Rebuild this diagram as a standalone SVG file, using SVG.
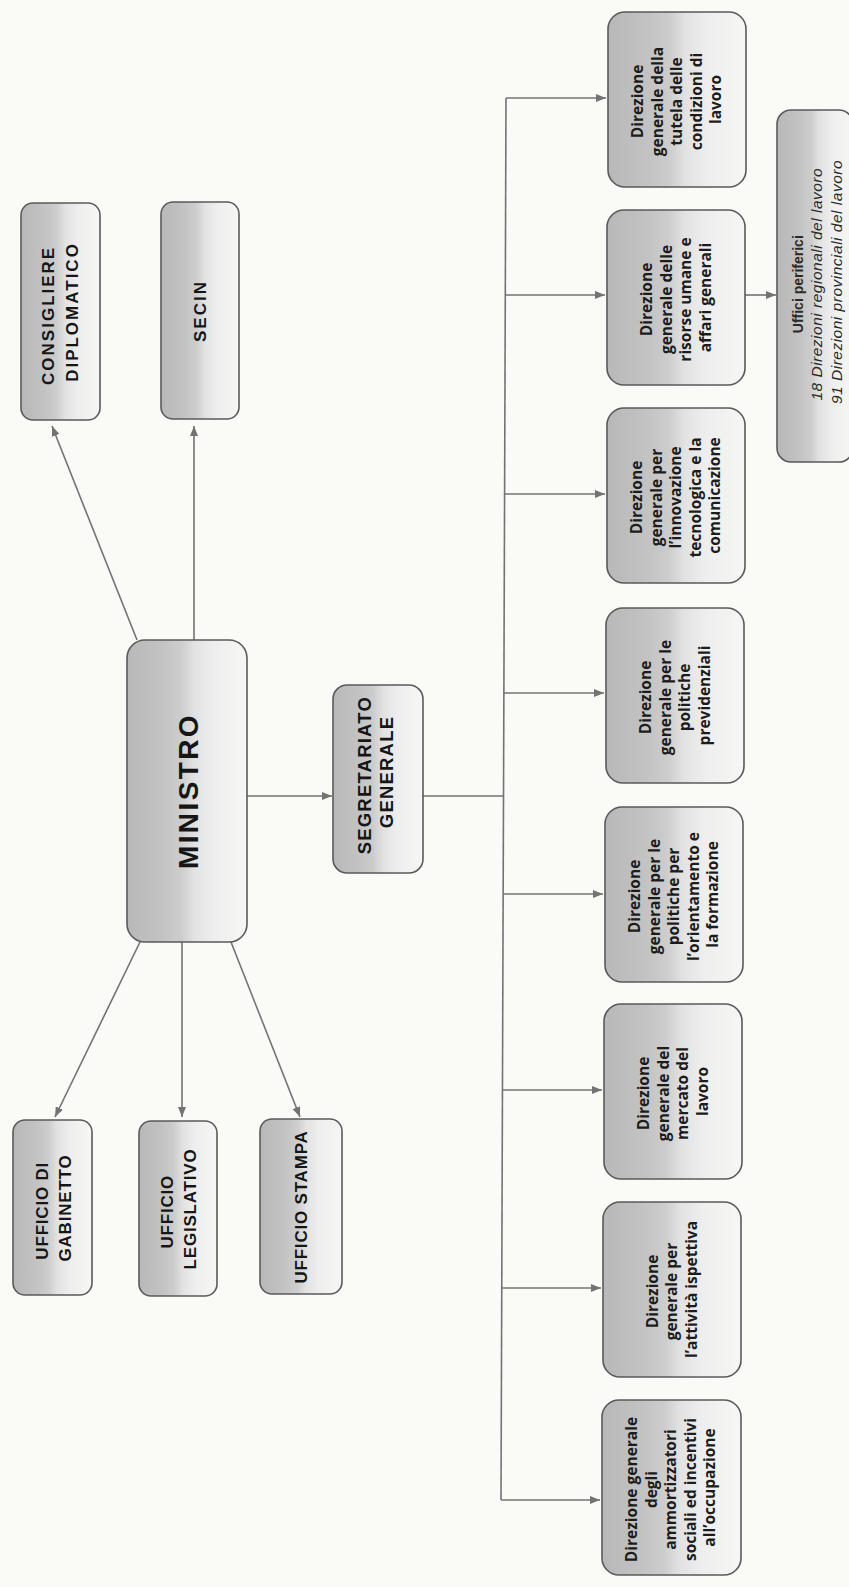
<svg xmlns="http://www.w3.org/2000/svg" width="849" height="1587" viewBox="0 0 849 1587">
  <defs>
    <linearGradient id="boxFill" x1="0" y1="0" x2="1" y2="0">
      <stop offset="0" stop-color="#b8b8b8"/>
      <stop offset="0.3" stop-color="#c3c3c3"/>
      <stop offset="0.45" stop-color="#cdcdcd"/>
      <stop offset="0.56" stop-color="#e2e2e2"/>
      <stop offset="0.72" stop-color="#eeeeee"/>
      <stop offset="1" stop-color="#f6f6f4"/>
    </linearGradient>
    <marker id="arrow" viewBox="0 0 10 8" refX="10" refY="4" markerWidth="10" markerHeight="8" markerUnits="userSpaceOnUse" orient="auto">
      <path d="M0,0 L10,4 L0,8 z" fill="#737373"/>
    </marker>
    <style>
      .box { fill: url(#boxFill); stroke: #5a5a5a; stroke-width: 1.6; }
      .cap { font-family: "Liberation Sans", Arial, sans-serif; font-weight: bold; fill: #161616; text-anchor: middle; }
      .dir { font-family: "Open Sans", "Liberation Sans", sans-serif; font-weight: bold; font-size: 15.5px; fill: #1c1c1c; text-anchor: middle; }
      .per { font-family: "Liberation Sans", Arial, sans-serif; fill: #2a2a2a; text-anchor: middle; }
      .link { stroke: #737373; stroke-width: 1.6; fill: none; }
    </style>
  </defs>

  <rect width="849" height="1587" fill="#fafaf6"/>

  <!-- connectors -->
  <g id="connectors">
    <line class="link" x1="137" y1="640" x2="52" y2="426" marker-end="url(#arrow)"/>
    <line class="link" x1="194" y1="640" x2="194" y2="426" marker-end="url(#arrow)"/>
    <line class="link" x1="140" y1="942" x2="55" y2="1117" marker-end="url(#arrow)"/>
    <line class="link" x1="182" y1="942" x2="182" y2="1117" marker-end="url(#arrow)"/>
    <line class="link" x1="231" y1="942" x2="300" y2="1117" marker-end="url(#arrow)"/>
    <line class="link" x1="247" y1="796" x2="332" y2="796" marker-end="url(#arrow)"/>
    <line class="link" x1="423" y1="796" x2="503.6" y2="796"/>
    <!-- vertical bus -->
    <line class="link" x1="506" y1="98" x2="501" y2="1500"/>
    <line class="link" x1="506" y1="98" x2="606" y2="98" marker-end="url(#arrow)"/>
    <line class="link" x1="505.3" y1="295" x2="605" y2="295" marker-end="url(#arrow)"/>
    <line class="link" x1="504.6" y1="494" x2="605" y2="494" marker-end="url(#arrow)"/>
    <line class="link" x1="503.9" y1="693" x2="604" y2="693" marker-end="url(#arrow)"/>
    <line class="link" x1="503.2" y1="894" x2="603" y2="894" marker-end="url(#arrow)"/>
    <line class="link" x1="502.5" y1="1090" x2="602" y2="1090" marker-end="url(#arrow)"/>
    <line class="link" x1="501.8" y1="1288" x2="601" y2="1288" marker-end="url(#arrow)"/>
    <line class="link" x1="501" y1="1500" x2="600" y2="1500" marker-end="url(#arrow)"/>
    <line class="link" x1="745" y1="295" x2="776" y2="295" marker-end="url(#arrow)"/>
  </g>

  <!-- minister and staff offices -->
  <g id="ministro">
    <rect class="box" x="127" y="640" width="120" height="302" rx="18"/>
    <text class="cap" font-size="28" letter-spacing="2.4" transform="translate(188,791) rotate(-90)" x="0" y="10">MINISTRO</text>
  </g>

  <g id="consigliere">
    <rect class="box" x="21" y="203" width="79" height="217" rx="12"/>
    <text class="cap" font-size="17" letter-spacing="2" transform="translate(61,312) rotate(-90)">
      <tspan x="0" y="-7">CONSIGLIERE</tspan>
      <tspan x="0" y="17">DIPLOMATICO</tspan>
    </text>
  </g>

  <g id="secin">
    <rect class="box" x="161" y="202" width="78" height="217" rx="12"/>
    <text class="cap" font-size="17" letter-spacing="2" transform="translate(200,311) rotate(-90)" x="0" y="6.1">SECIN</text>
  </g>

  <g id="gabinetto">
    <rect class="box" x="13" y="1120" width="79" height="175" rx="12"/>
    <text class="cap" font-size="17" letter-spacing="0.8" transform="translate(53,1208) rotate(-90)">
      <tspan x="0" y="-5.4">UFFICIO DI</tspan>
      <tspan x="0" y="17.6">GABINETTO</tspan>
    </text>
  </g>

  <g id="legislativo">
    <rect class="box" x="139" y="1121" width="78" height="175" rx="12"/>
    <text class="cap" font-size="17" letter-spacing="0.8" transform="translate(178,1209) rotate(-90)">
      <tspan x="0" y="-5.4">UFFICIO</tspan>
      <tspan x="0" y="17.6">LEGISLATIVO</tspan>
    </text>
  </g>

  <g id="stampa">
    <rect class="box" x="260" y="1119" width="82" height="175" rx="12"/>
    <text class="cap" font-size="17" letter-spacing="0.8" transform="translate(301,1207) rotate(-90)" x="0" y="6.1">UFFICIO STAMPA</text>
  </g>

  <g id="segretariato">
    <rect class="box" x="333" y="685" width="90" height="188" rx="14"/>
    <text class="cap" font-size="18.5" letter-spacing="1.2" transform="translate(375,772) rotate(-90)">
      <tspan x="0" y="-4.3">SEGRETARIATO</tspan>
      <tspan x="0" y="17.7">GENERALE</tspan>
    </text>
  </g>

  <!-- general directorates -->
  <g id="dg-tutela">
    <rect class="box" x="608" y="12" width="138" height="175" rx="17"/>
    <text class="dir" transform="translate(677,99.5) rotate(-90)">
      <tspan x="0" y="-33.6">Direzione</tspan>
      <tspan x="0" y="-14.1">generale della</tspan>
      <tspan x="0" y="5.4">tutela delle</tspan>
      <tspan x="0" y="24.9">condizioni di</tspan>
      <tspan x="0" y="44.4">lavoro</tspan>
    </text>
  </g>

  <g id="dg-risorse">
    <rect class="box" x="607" y="210" width="138" height="175" rx="17"/>
    <text class="dir" transform="translate(676,297.5) rotate(-90)">
      <tspan x="0" y="-23.85">Direzione</tspan>
      <tspan x="0" y="-4.35">generale delle</tspan>
      <tspan x="0" y="15.15">risorse umane e</tspan>
      <tspan x="0" y="34.65">affari generali</tspan>
    </text>
  </g>

  <g id="dg-innovazione">
    <rect class="box" x="607" y="408" width="138" height="175" rx="17"/>
    <text class="dir" transform="translate(676,495.5) rotate(-90)">
      <tspan x="0" y="-33.6">Direzione</tspan>
      <tspan x="0" y="-14.1">generale per</tspan>
      <tspan x="0" y="5.4">l’innovazione</tspan>
      <tspan x="0" y="24.9">tecnologica e la</tspan>
      <tspan x="0" y="44.4">comunicazione</tspan>
    </text>
  </g>

  <g id="dg-previdenziali">
    <rect class="box" x="606" y="608" width="138" height="175" rx="17"/>
    <text class="dir" transform="translate(675,695.5) rotate(-90)">
      <tspan x="0" y="-23.85">Direzione</tspan>
      <tspan x="0" y="-4.35">generale per le</tspan>
      <tspan x="0" y="15.15">politiche</tspan>
      <tspan x="0" y="34.65">previdenziali</tspan>
    </text>
  </g>

  <g id="dg-orientamento">
    <rect class="box" x="605" y="807" width="138" height="175" rx="17"/>
    <text class="dir" transform="translate(674,894.5) rotate(-90)">
      <tspan x="0" y="-33.6">Direzione</tspan>
      <tspan x="0" y="-14.1">generale per le</tspan>
      <tspan x="0" y="5.4">politiche per</tspan>
      <tspan x="0" y="24.9">l’orientamento e</tspan>
      <tspan x="0" y="44.4">la formazione</tspan>
    </text>
  </g>

  <g id="dg-mercato">
    <rect class="box" x="604" y="1004" width="138" height="175" rx="17"/>
    <text class="dir" transform="translate(673,1091.5) rotate(-90)">
      <tspan x="0" y="-23.85">Direzione</tspan>
      <tspan x="0" y="-4.35">generale del</tspan>
      <tspan x="0" y="15.15">mercato del</tspan>
      <tspan x="0" y="34.65">lavoro</tspan>
    </text>
  </g>

  <g id="dg-ispettiva">
    <rect class="box" x="603" y="1202" width="138" height="175" rx="17"/>
    <text class="dir" transform="translate(672,1289.5) rotate(-90)">
      <tspan x="0" y="-14.1">Direzione</tspan>
      <tspan x="0" y="5.4">generale per</tspan>
      <tspan x="0" y="24.9">l’attività ispettiva</tspan>
    </text>
  </g>

  <g id="dg-ammortizzatori">
    <rect class="box" x="602" y="1400" width="139" height="175" rx="17"/>
    <text class="dir" transform="translate(671,1487.5) rotate(-90)">
      <tspan x="0" y="-33.6">Direzione generale</tspan>
      <tspan x="0" y="-14.1">degli</tspan>
      <tspan x="0" y="5.4">ammortizzatori</tspan>
      <tspan x="0" y="24.9">sociali ed incentivi</tspan>
      <tspan x="0" y="44.4">all’occupazione</tspan>
    </text>
  </g>

  <!-- peripheral offices -->
  <g id="uffici-periferici">
    <rect class="box" x="777" y="110" width="76" height="352" rx="14"/>
    <text class="per" transform="translate(817,282) rotate(-90)">
      <tspan x="0" y="-14" font-weight="bold" font-size="14">Uffici periferici</tspan>
      <tspan x="0" y="5" font-style="italic" font-size="15.5" letter-spacing="0.5">18 Direzioni regionali del lavoro</tspan>
      <tspan x="0" y="25" font-style="italic" font-size="15.5" letter-spacing="0.5">91 Direzioni provinciali del lavoro</tspan>
    </text>
  </g>
</svg>
